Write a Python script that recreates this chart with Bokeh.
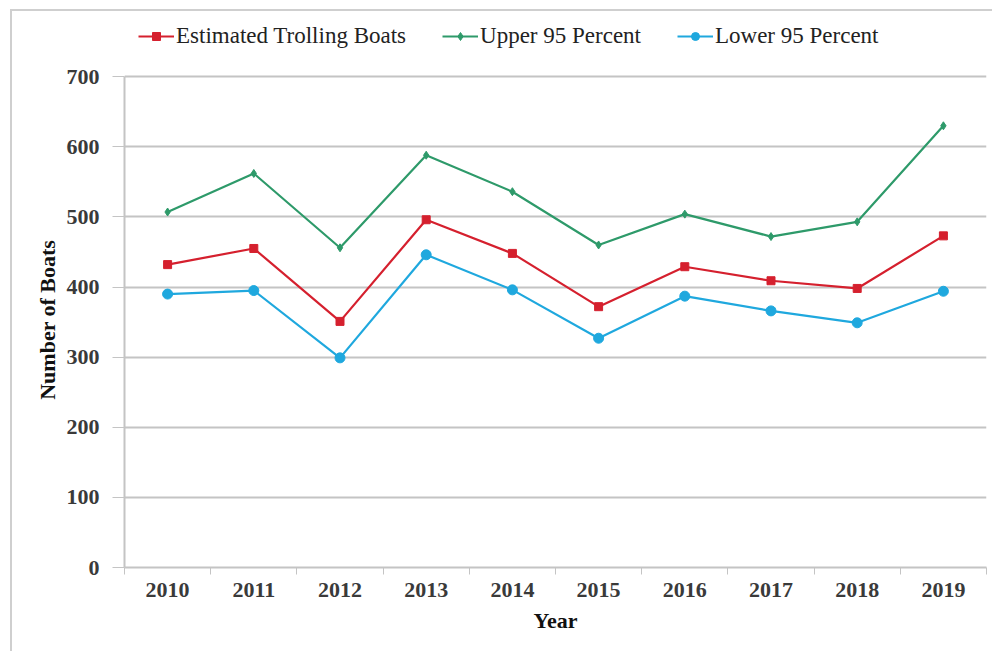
from bokeh.plotting import figure
from bokeh.models import (Range1d, LinearAxis, FixedTicker, Legend, LegendItem, BasicTickFormatter)
from bokeh.embed import file_html
from bokeh.resources import INLINE

years = [2010, 2011, 2012, 2013, 2014, 2015, 2016, 2017, 2018, 2019]
estimated = [432, 455, 351, 496, 448, 372, 429, 409, 398, 473]
upper95 = [507, 562, 456, 588, 536, 460, 504, 472, 493, 630]
lower95 = [390, 395, 299, 446, 396, 327, 387, 366, 349, 394]
y_ticks = [0, 100, 200, 300, 400, 500, 600, 700]

RED = "#d5202e"
GREEN = "#2e9a6a"
CYAN = "#1fa8de"
FONT = "Liberation Serif"

# the frame reaches up to the legend row; the value axis itself stops at 700
p = figure(width=982, height=642, x_range=Range1d(years[0] - 0.5, years[-1] + 0.5),
           y_range=Range1d(0, 793), output_backend="svg", toolbar_location=None,
           x_axis_location=None, y_axis_location="left",
           min_border_left=112, min_border_top=0, min_border_right=8, min_border_bottom=86)
p.margin = (9, 0, 0, 10)
p.styles = {"border-top": "2px solid #cfcfcf", "border-left": "2px solid #cfcfcf"}
p.outline_line_color = None
p.background_fill_color = "white"
p.border_fill_color = "white"

# y axis
ya = p.yaxis[0]
ya.ticker = FixedTicker(ticks=y_ticks)
ya.bounds = (0, 700)
ya.axis_line_color = "#c4c4c4"
ya.axis_line_width = 2
ya.major_tick_line_color = "#c4c4c4"
ya.major_tick_out = 12
ya.major_tick_in = 0
ya.minor_tick_line_color = None
ya.major_label_text_font = FONT
ya.major_label_text_font_style = "bold"
ya.major_label_text_font_size = "22px"
ya.major_label_text_color = "#3a3a3a"
ya.major_label_standoff = 13
ya.axis_label = "Number of Boats" + "\u00a0" * 11
ya.axis_label_text_font = FONT
ya.axis_label_text_font_style = "bold"
ya.axis_label_text_font_size = "22px"
ya.axis_label_text_color = "#111111"
ya.axis_label_standoff = 4

p.ygrid.ticker = FixedTicker(ticks=y_ticks)
p.ygrid.grid_line_color = "#c4c4c4"
p.ygrid.grid_line_width = 2
p.xgrid.grid_line_color = None

# boundary ticks axis (ticks between categories, no labels)
bounds = [y - 0.5 for y in years] + [years[-1] + 0.5]
ta = LinearAxis(ticker=FixedTicker(ticks=bounds))
ta.axis_line_color = "#c4c4c4"
ta.axis_line_width = 2
ta.major_tick_line_color = "#c4c4c4"
ta.major_tick_out = 7
ta.major_tick_in = 0
ta.minor_tick_line_color = None
ta.major_label_text_font_size = "1px"
ta.major_label_text_alpha = 0
ta.major_label_standoff = 0
p.add_layout(ta, "below")

# labels axis
ca = LinearAxis(ticker=FixedTicker(ticks=years), formatter=BasicTickFormatter(use_scientific=False))
ca.axis_line_color = None
ca.major_tick_line_color = None
ca.minor_tick_line_color = None
ca.major_label_text_font = FONT
ca.major_label_text_font_style = "bold"
ca.major_label_text_font_size = "22px"
ca.major_label_text_color = "#3a3a3a"
ca.major_label_standoff = 2
ca.axis_label = "Year"
ca.axis_label_text_font = FONT
ca.axis_label_text_font_style = "bold"
ca.axis_label_text_font_size = "22px"
ca.axis_label_text_color = "#111111"
ca.axis_label_standoff = 8
p.add_layout(ca, "below")

# series
r1l = p.line(years, estimated, line_color=RED, line_width=2.2)
r1m = p.scatter(years, estimated, marker="square", size=8, fill_color=RED, line_color=RED)
r2l = p.line(years, upper95, line_color=GREEN, line_width=2.2)
r2m = p.scatter(years, upper95, marker="diamond", size=8, fill_color=GREEN, line_color=GREEN)
r3l = p.line(years, lower95, line_color=CYAN, line_width=2.2)
r3m = p.scatter(years, lower95, marker="circle", size=10, fill_color=CYAN, line_color=CYAN)

legend = Legend(items=[
    LegendItem(label="Estimated Trolling Boats", renderers=[r1l, r1m]),
    LegendItem(label="Upper 95 Percent", renderers=[r2l, r2m]),
    LegendItem(label="Lower 95 Percent", renderers=[r3l, r3m]),
], orientation="horizontal", location=(14, 518))
legend.label_text_font = FONT
legend.label_text_font_size = "23px"
legend.label_text_color = "#222222"
legend.glyph_width = 36
legend.glyph_height = 20
legend.label_height = 20
legend.label_standoff = 2
legend.spacing = 36
legend.padding = 0
legend.margin = 0
legend.border_line_color = None
legend.background_fill_alpha = 0
p.add_layout(legend, "center")

open("out.html", "w").write(file_html(p, INLINE))
